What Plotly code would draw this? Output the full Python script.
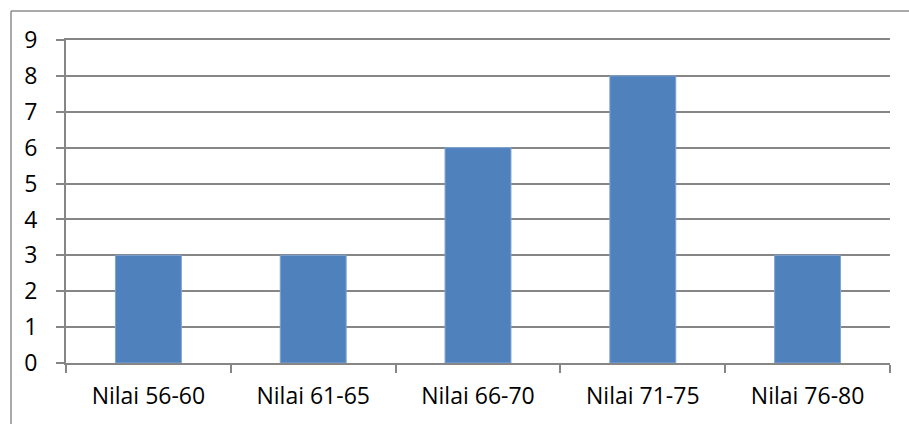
import plotly.graph_objects as go

categories = ["Nilai 56-60", "Nilai 61-65", "Nilai 66-70", "Nilai 71-75", "Nilai 76-80"]
values = [3, 3, 6, 8, 3]
y_ticks = list(range(0, 10))

W, H = 909, 424
L, R, T, B = 66, 19, 40, 61
pw, ph = W - L - R, H - T - B

def px(x):
    return (x - L) / pw

def py(y):
    return (H - B - y) / ph

fig = go.Figure(go.Bar(
    x=categories, y=values,
    marker=dict(color="#4F81BD", line=dict(color="#7FA3D3", width=1)),
))

grid = "#868686"
fig.update_layout(
    width=W, height=H,
    margin=dict(l=L, r=R, t=T, b=B),
    paper_bgcolor="white", plot_bgcolor="white",
    bargap=0.6, showlegend=False,
    font=dict(family="Open Sans, Liberation Sans, sans-serif", size=23, color="black"),
    xaxis=dict(
        showgrid=False, showline=True, linecolor=grid, linewidth=2, mirror=True,
        ticks="outside", tickson="boundaries", ticklen=8, tickcolor=grid, tickwidth=2,
        ticklabelstandoff=11,
    ),
    yaxis=dict(
        range=[0, 9], tickvals=y_ticks, showgrid=True, gridcolor=grid, gridwidth=1.5,
        showline=True, linecolor=grid, linewidth=2, zeroline=False,
        ticks="outside", ticklen=8, tickcolor=grid, tickwidth=2,
        ticklabelstandoff=14,
    ),
    shapes=[
        dict(type="line", xref="paper", yref="paper", x0=px(11), x1=px(W + 20), y0=py(11), y1=py(11),
             line=dict(color="#8C8C8C", width=1.5)),
        dict(type="line", xref="paper", yref="paper", x0=px(11), x1=px(11), y0=py(11), y1=py(H + 20),
             line=dict(color="#8C8C8C", width=1.5)),
    ],
)

fig.write_html("out.html")
